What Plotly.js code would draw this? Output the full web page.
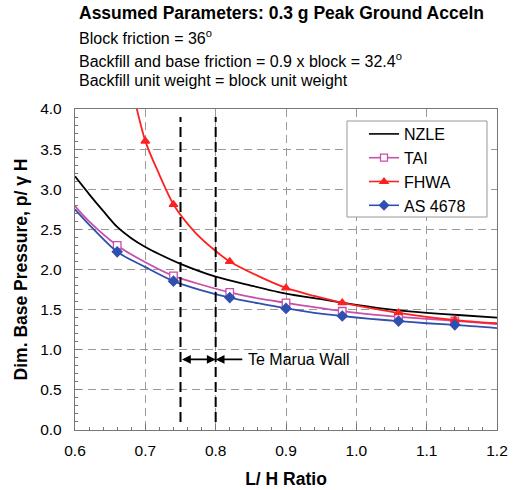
<!DOCTYPE html>
<html>
<head>
<meta charset="utf-8">
<script src="https://cdn.plot.ly/plotly-3.0.1.min.js"></script>
<style>html,body{margin:0;padding:0;background:#fff;}#chart{width:516px;height:490px;}</style>
</head>
<body>
<div id="chart"></div>
<script>
// Curve samples
const nzleX = [0.60, 0.62, 0.64, 0.66, 0.68, 0.70, 0.72, 0.75, 0.80, 0.85, 0.90, 0.95, 1.00, 1.05, 1.10, 1.15, 1.20];
const nzleY = [3.16, 2.94, 2.73, 2.53, 2.39, 2.28, 2.19, 2.07, 1.91, 1.80, 1.70, 1.63, 1.56, 1.50, 1.46, 1.43, 1.40];

const taiX = [0.60, 0.62, 0.66, 0.70, 0.74, 0.78, 0.82, 0.86, 0.90, 0.94, 0.98, 1.02, 1.06, 1.10, 1.14, 1.20];
const taiY = [2.79, 2.60, 2.30, 2.09, 1.92, 1.81, 1.715, 1.64, 1.585, 1.53, 1.48, 1.44, 1.41, 1.385, 1.36, 1.32];

const fhwaX = [0.68, 0.70, 0.72, 0.74, 0.77, 0.80, 0.82, 0.86, 0.90, 0.94, 0.98, 1.02, 1.06, 1.10, 1.14, 1.20];
const fhwaY = [4.30, 3.60, 3.18, 2.81, 2.47, 2.23, 2.10, 1.92, 1.77, 1.67, 1.585, 1.52, 1.46, 1.41, 1.37, 1.33];

const asX = [0.60, 0.62, 0.66, 0.70, 0.74, 0.78, 0.82, 0.86, 0.90, 0.94, 0.98, 1.02, 1.06, 1.10, 1.14, 1.20];
const asY = [2.75, 2.56, 2.22, 2.03, 1.855, 1.74, 1.65, 1.58, 1.515, 1.46, 1.42, 1.385, 1.357, 1.33, 1.31, 1.27];

// Marker points
const taiMX = [0.66, 0.74, 0.82, 0.90, 0.98, 1.06, 1.14];
const taiMY = [2.30, 1.92, 1.715, 1.585, 1.48, 1.41, 1.36];
const fhwaMX = [0.70, 0.74, 0.82, 0.90, 0.98, 1.06, 1.14];
const fhwaMY = [3.60, 2.81, 2.10, 1.77, 1.585, 1.46, 1.37];
const asMX = [0.66, 0.74, 0.82, 0.90, 0.98, 1.06, 1.14];
const asMY = [2.22, 1.855, 1.65, 1.515, 1.42, 1.357, 1.31];

const wallRange = [0.75, 0.80];
const wallLabel = "Te Marua Wall";

const seriesNames = ["NZLE", "TAI", "FHWA", "AS 4678"];
const colors = {NZLE: "#000000", TAI: "#c850a8", FHWA: "#ff2020", AS: "#3050b0"};

const traces = [];
function addSeries(name, col, cx, cy, mx, my, sym, fillMarker) {
  traces.push({x: cx, y: cy, mode: "lines", line: {color: col, width: 1.8, shape: "spline", smoothing: 0.8},
    showlegend: false, hoverinfo: "skip", legendgroup: name});
  if (mx) {
    traces.push({x: mx, y: my, mode: "markers", showlegend: false, legendgroup: name,
      marker: {symbol: sym, size: 7.5, color: fillMarker ? col : "#ffffff", line: {color: col, width: 1.3}}});
  }
  traces.push({x: [null], y: [null], name: name, legendgroup: name,
    mode: mx ? "lines+markers" : "lines", line: {color: col, width: 1.6},
    marker: {symbol: sym, size: 7, color: fillMarker ? col : "#ffffff", line: {color: col, width: 1.3}}});
}
addSeries(seriesNames[0], colors.NZLE, nzleX, nzleY, null, null, "circle", true);
addSeries(seriesNames[1], colors.TAI, taiX, taiY, taiMX, taiMY, "square", false);
addSeries(seriesNames[2], colors.FHWA, fhwaX, fhwaY, fhwaMX, fhwaMY, "triangle-up", true);
addSeries(seriesNames[3], colors.AS, asX, asY, asMX, asMY, "diamond", true);

const font = "Liberation Sans, Arial, sans-serif";
const yPix = p => (430 - p) / 321;
const xPix = p => (p - 75) / 422;

const layout = {
  width: 516, height: 490,
  margin: {l: 75, r: 19, t: 109, b: 60},
  paper_bgcolor: "#fff", plot_bgcolor: "#fff",
  font: {family: font, color: "#000", size: 15.5},
  showlegend: true,
  legend: {x: xPix(364), y: yPix(117), xanchor: "left", yanchor: "top",
    borderwidth: 0, bgcolor: "rgba(0,0,0,0)",
    font: {size: 16, family: font}, itemwidth: 30, tracegroupgap: 0},
  xaxis: {range: [0.6, 1.2], dtick: 0.1, tick0: 0.6, tickformat: ".1f",
    showgrid: true, gridcolor: "#9a9a9a", griddash: "8px,5px", gridwidth: 1,
    showline: true, linecolor: "#777", linewidth: 1.2, mirror: true,
    ticks: "inside", ticklen: 6, tickcolor: "#777", ticklabelstandoff: 6,
    minor: {dtick: 0.02, ticks: "inside", ticklen: 3, tickcolor: "#777", showgrid: false},
    zeroline: false, tickfont: {size: 15.5},
    title: {text: "<b>L/ H Ratio</b>", font: {size: 17.5}, standoff: 15}},
  yaxis: {range: [0, 4], dtick: 0.5, tick0: 0, tickformat: ".1f",
    showgrid: true, gridcolor: "#9a9a9a", griddash: "8px,5px", gridwidth: 1,
    showline: true, linecolor: "#777", linewidth: 1.2, mirror: true,
    ticks: "inside", ticklen: 6, tickcolor: "#777", ticklabelstandoff: 9,
    minor: {dtick: 0.1, ticks: "inside", ticklen: 3, tickcolor: "#777", showgrid: false},
    zeroline: false, tickfont: {size: 15.5},
    title: {text: "<b>Dim. Base Pressure, p/ γ H</b>", font: {size: 17.5}, standoff: 8}},
  shapes: wallRange.map(v => ({type: "line", xref: "x", yref: "y", x0: v, x1: v, y0: 0.1, y1: 3.9,
    line: {color: "#000", width: 2, dash: "10px,5px"}})).concat([
    {type: "rect", xref: "paper", yref: "paper", x0: xPix(347), x1: xPix(487), y0: yPix(121), y1: yPix(217),
      fillcolor: "#fff", line: {color: "#999", width: 1}, layer: "above"}]),
  annotations: [
    {xref: "paper", yref: "paper", x: xPix(77), y: yPix(13), xanchor: "left", yanchor: "middle",
      text: "<b>Assumed Parameters: 0.3 g Peak Ground Acceln</b>", showarrow: false, font: {size: 17.5}},
    {xref: "paper", yref: "paper", x: xPix(77), y: yPix(37), xanchor: "left", yanchor: "middle",
      text: "Block friction = 36<sup>o</sup>", showarrow: false, font: {size: 16}},
    {xref: "paper", yref: "paper", x: xPix(77), y: yPix(60), xanchor: "left", yanchor: "middle",
      text: "Backfill and base friction = 0.9 x block = 32.4<sup>o</sup>", showarrow: false, font: {size: 16}},
    {xref: "paper", yref: "paper", x: xPix(77), y: yPix(80), xanchor: "left", yanchor: "middle",
      text: "Backfill unit weight = block unit weight", showarrow: false, font: {size: 16}},
    {xref: "x", yref: "y", axref: "x", ayref: "y", x: wallRange[1], y: 0.88, ax: wallRange[0], ay: 0.88,
      text: "", showarrow: true, arrowhead: 2, arrowside: "end+start", arrowsize: 1.1, arrowwidth: 1.6,
      arrowcolor: "#000", standoff: 0, startstandoff: 0},
    {xref: "x", yref: "y", axref: "x", ayref: "y", x: wallRange[1], y: 0.88, ax: 0.84, ay: 0.88,
      text: "", showarrow: true, arrowhead: 2, arrowsize: 1.1, arrowwidth: 1.6, arrowcolor: "#000", standoff: 0},
    {xref: "x", yref: "y", x: 0.843, y: 0.88, xanchor: "left", yanchor: "middle",
      text: wallLabel, showarrow: false, font: {size: 16}}
  ]
};

Plotly.newPlot("chart", traces, layout, {displayModeBar: false, staticPlot: true});
</script>
</body>
</html>
